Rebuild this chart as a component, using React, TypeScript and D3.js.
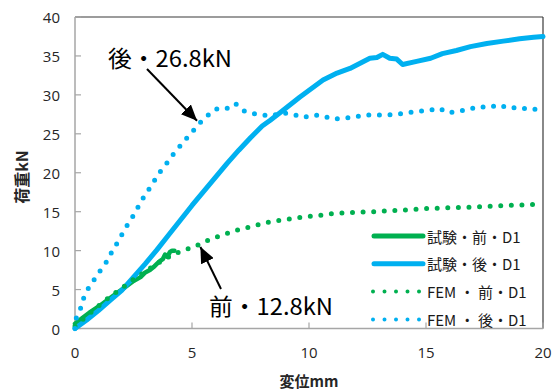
import React from "react";
import * as d3 from "d3";

// Load–displacement curves (displacement mm, load kN)
const testFrontD1: [number, number][] = [
  [0, 0.6], [0.3, 1.3], [0.6, 2.0], [1.0, 2.8], [1.5, 3.9], [2.0, 5.0],
  [2.5, 6.1], [2.8, 6.6], [3.0, 7.2], [3.2, 7.5], [3.4, 8.0], [3.6, 8.6],
  [3.75, 8.9], [3.85, 9.5], [3.95, 9.2], [4.05, 9.8], [4.15, 10.0], [4.25, 10.0],
];

const testRearD1: [number, number][] = [
  [0, 0], [0.5, 1.1], [1, 2.3], [1.5, 3.6], [2, 4.9], [2.5, 6.6], [3, 8.3],
  [3.5, 10.1], [4, 12.0], [4.5, 13.9], [5, 15.8], [5.5, 17.6], [6, 19.4],
  [6.5, 21.2], [7, 22.9], [7.5, 24.5], [8, 26.0], [8.33, 26.7], [8.76, 27.7],
  [9.6, 29.7], [10.6, 31.9], [11.2, 32.8], [11.75, 33.4], [12.6, 34.7],
  [12.9, 34.8], [13.15, 35.2], [13.45, 34.7], [13.75, 34.6], [14.0, 33.9],
  [14.6, 34.3], [15.2, 34.7], [15.7, 35.3], [16.3, 35.7], [16.9, 36.2],
  [17.6, 36.6], [18.3, 36.9], [19.0, 37.2], [19.6, 37.4], [20, 37.5],
];

const femFrontD1: [number, number][] = [
  [0, 0.3], [0.5, 1.6], [1, 2.9], [1.5, 4.1], [2, 5.2], [2.5, 6.3], [3, 7.3],
  [3.5, 8.3], [4, 9.2], [4.5, 9.9], [4.9, 10.3], [5.4, 10.9], [5.8, 11.5],
  [6.2, 11.9], [6.7, 12.4], [7.1, 12.8], [7.6, 13.1], [8.0, 13.5], [8.5, 13.8],
  [9.0, 14.0], [9.5, 14.2], [10.0, 14.4], [10.4, 14.5], [10.85, 14.7],
  [11.3, 14.8], [11.8, 14.9], [12.3, 14.95], [12.75, 15.0], [14, 15.2],
  [15, 15.4], [16, 15.5], [17, 15.6], [18, 15.75], [19, 15.85], [20, 16.0],
];

const femRearD1: [number, number][] = [
  [0, 0], [0.05, 1.3], [0.24, 2.6], [0.38, 4.0], [0.58, 5.2], [0.85, 6.4],
  [1.12, 7.6], [1.38, 8.7], [1.6, 10.0], [1.85, 11.2], [2.08, 12.5],
  [2.3, 13.6], [2.56, 14.8], [2.8, 16.2], [3.03, 17.3], [3.3, 18.5],
  [3.55, 19.8], [3.85, 20.9], [4.1, 22.0], [4.4, 23.1], [4.7, 24.2],
  [5.0, 25.2], [5.3, 26.3], [5.64, 27.3], [6.03, 28.2], [6.45, 28.2],
  [6.85, 28.9], [7.17, 28.0], [7.6, 27.6], [8.0, 27.4], [8.4, 27.3],
  [8.85, 27.7], [9.3, 27.5], [9.75, 27.1], [10.2, 27.4], [10.6, 27.3],
  [11.0, 26.9], [11.45, 27.0], [11.9, 27.1], [12.35, 27.4], [12.8, 27.4],
  [13.3, 27.4], [13.7, 27.5], [14.2, 27.7], [14.65, 27.9], [15.1, 28.0],
  [15.55, 28.3], [15.95, 27.7], [16.4, 27.9], [16.8, 28.1], [17.25, 28.5],
  [17.7, 28.4], [18.15, 28.7], [18.5, 28.3], [19.0, 28.4], [19.45, 28.1],
  [19.9, 28.2], [20, 28.2],
];

const xTicks = [0, 5, 10, 15, 20];
const yTicks = [0, 5, 10, 15, 20, 25, 30, 35, 40];

const legendLabels = ["試験・前・D1", "試験・後・D1", "FEM ・ 前・D1", "FEM ・ 後・D1"];

// Annotated peak loads
const rearPeakLabel = "後・26.8kN";
const frontPeakLabel = "前・12.8kN";
const rearPeak: [number, number] = [5.3, 26.8];
const frontPeak: [number, number] = [5.4, 11.0];

const GREEN = "#00B050";
const BLUE = "#00B0F0";

const W = 558;
const H = 392;
const plot = { left: 75, right: 543, top: 17, bottom: 328.5 };

export default function App() {
  const x = d3.scaleLinear().domain([0, 20]).range([plot.left, plot.right]);
  const y = d3.scaleLinear().domain([0, 40]).range([plot.bottom, plot.top]);
  const line = d3
    .line<[number, number]>()
    .x((d) => x(d[0]))
    .y((d) => y(d[1]))
    .curve(d3.curveLinear);

  const series = [
    { data: testFrontD1, color: GREEN, dotted: false },
    { data: testRearD1, color: BLUE, dotted: false },
    { data: femFrontD1, color: GREEN, dotted: true },
    { data: femRearD1, color: BLUE, dotted: true },
  ];

  const tickFont = "'Open Sans', 'Noto Sans', sans-serif";
  const jpFont = "'Noto Sans CJK JP', 'Noto Sans', sans-serif";

  const legendX0 = 373;
  const legendX1 = 423;
  const legendY0 = 236;
  const legendStep = 27.8;

  return (
    <svg
      width={W}
      height={H}
      style={{ position: "absolute", left: 0, top: 0, background: "#fff" }}
    >
      <defs>
        <marker
          id="arrowHead"
          viewBox="0 0 10 10"
          refX="10"
          refY="5"
          markerWidth="8"
          markerHeight="7"
          markerUnits="strokeWidth"
          orient="auto"
          preserveAspectRatio="none"
        >
          <path d="M0,0 L10,5 L0,10 Z" fill="#000" />
        </marker>
      </defs>

      {/* frame */}
      <line x1={plot.left} x2={plot.right} y1={plot.top} y2={plot.top} stroke="#3a3a3a" strokeWidth={1.2} />
      <line x1={plot.right} x2={plot.right} y1={plot.top} y2={plot.bottom} stroke="#3a3a3a" strokeWidth={1.2} />
      <line x1={plot.left} x2={plot.left} y1={plot.top} y2={plot.bottom} stroke="#a6a6a6" strokeWidth={1.5} />
      <line x1={plot.left} x2={plot.right} y1={plot.bottom} y2={plot.bottom} stroke="#a6a6a6" strokeWidth={1.5} />

      {/* y ticks */}
      {yTicks.map((t) => (
        <g key={`y${t}`}>
          <line x1={plot.left} x2={plot.left + 6} y1={y(t)} y2={y(t)} stroke="#a6a6a6" strokeWidth={1.2} />
          <text
            x={60}
            y={y(t)}
            textAnchor="end"
            dominantBaseline="central"
            fontFamily={tickFont}
            fontSize={15}
            fill="#262626"
          >
            {t}
          </text>
        </g>
      ))}

      {/* x ticks */}
      {xTicks.map((t) => (
        <g key={`x${t}`}>
          <line x1={x(t)} x2={x(t)} y1={plot.bottom} y2={plot.bottom - 6} stroke="#a6a6a6" strokeWidth={1.2} />
          <text
            x={x(t)}
            y={352}
            textAnchor="middle"
            dominantBaseline="central"
            fontFamily={tickFont}
            fontSize={15}
            fill="#262626"
          >
            {t}
          </text>
        </g>
      ))}

      {/* axis titles */}
      <text
        x={(plot.left + plot.right) / 2}
        y={387}
        textAnchor="middle"
        fontFamily={jpFont}
        fontWeight="bold"
        fontSize={15}
        fill="#262626"
      >
        変位mm
      </text>
      <text
        transform={`translate(21, 177) rotate(-90)`}
        textAnchor="middle"
        dominantBaseline="central"
        fontFamily={jpFont}
        fontWeight="bold"
        fontSize={16}
        fill="#262626"
      >
        荷重kN
      </text>

      {/* series */}
      {series.map((s, i) => (
        <path
          key={i}
          d={line(s.data) ?? ""}
          fill="none"
          stroke={s.color}
          strokeWidth={s.dotted ? 5 : i === 0 ? 4.5 : 5}
          strokeLinecap="round"
          strokeLinejoin="round"
          strokeDasharray={s.dotted ? "0 10.6" : undefined}
        />
      ))}

      {/* annotations */}
      <text
        x={108}
        y={67}
        fontFamily={jpFont}
        fontSize={23}
        textLength={124}
        lengthAdjust="spacingAndGlyphs"
        fill="#000"
      >
        {rearPeakLabel}
      </text>
      <line
        x1={147}
        y1={69}
        x2={x(rearPeak[0]) - 2}
        y2={y(rearPeak[1]) + 1}
        stroke="#000"
        strokeWidth={2}
        markerEnd="url(#arrowHead)"
      />
      <text
        x={209}
        y={315}
        fontFamily={jpFont}
        fontSize={23}
        textLength={124}
        lengthAdjust="spacingAndGlyphs"
        fill="#000"
      >
        {frontPeakLabel}
      </text>
      <line
        x1={221}
        y1={289}
        x2={x(frontPeak[0]) - 1}
        y2={y(frontPeak[1]) + 4}
        stroke="#000"
        strokeWidth={2}
        markerEnd="url(#arrowHead)"
      />

      {/* legend */}
      {series.map((s, i) => {
        const ly = legendY0 + i * legendStep;
        return (
          <g key={`lg${i}`}>
            <line
              x1={s.dotted ? legendX0 : legendX0 + 1}
              x2={legendX1}
              y1={ly}
              y2={ly}
              stroke={s.color}
              strokeWidth={s.dotted ? 4 : 5}
              strokeLinecap="round"
              strokeDasharray={s.dotted ? "0 11.5" : undefined}
            />
            <text
              x={427}
              y={ly}
              dominantBaseline="central"
              fontFamily={jpFont}
              fontSize={15}
              fill="#1a1a1a"
            >
              {legendLabels[i]}
            </text>
          </g>
        );
      })}
    </svg>
  );
}
